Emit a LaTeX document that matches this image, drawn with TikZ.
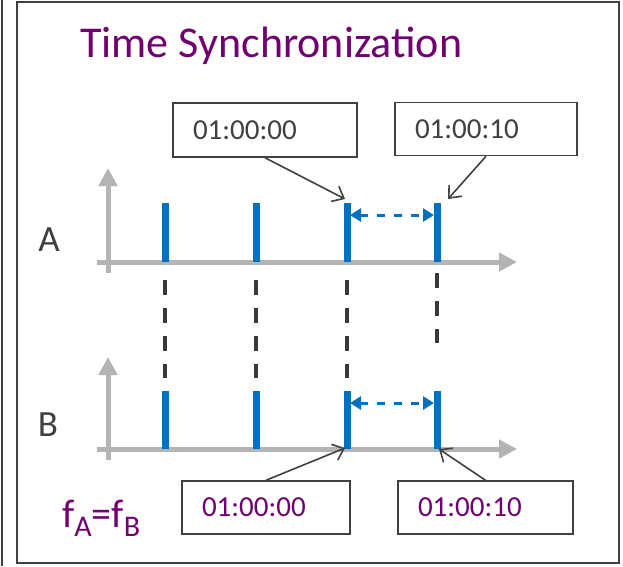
\documentclass[tikz,border=0pt]{standalone}
\usepackage{fontspec}
\setmainfont{Carlito}
\usetikzlibrary{arrows.meta,calc}
\definecolor{titlepurple}{RGB}{112,0,112}
\definecolor{tickblue}{RGB}{0,112,192}
\definecolor{axisgray}{RGB}{180,180,180}
\definecolor{inkgray}{RGB}{64,64,64}

\begin{document}
\begin{tikzpicture}[x=1pt, y=-1pt,
    axisline/.style={draw=axisgray, line width=5pt, -{Triangle[length=18pt,width=18pt]}},
    tickbar/.style={draw=tickblue, line width=7pt},
    syncline/.style={draw=inkgray!90!black, line width=4pt, dash pattern=on 15pt off 13pt},
    gapline/.style={draw=tickblue, line width=3pt, dash pattern=on 8pt off 9pt,
                    {Triangle[length=11pt,width=13pt]}-{Triangle[length=11pt,width=13pt]}},
    stampbox/.style={draw=inkgray, line width=1.5pt, align=left, inner xsep=20pt,
                     inner ysep=0pt, font=\fontsize{29}{31}\selectfont},
    pointer/.style={draw=inkgray, line width=1.6pt, -{Straight Barb[length=10pt,width=17pt]}},
    rowlabel/.style={text=inkgray, font=\fontsize{37}{39}\selectfont}]
  \useasboundingbox (0,0) rectangle (623,566);

  % frame
  \draw[inkgray, line width=2pt] (17,2) rectangle (619,563);
  \draw[inkgray, line width=2.5pt] (2,0) -- (2,566);

  % title
  \node[anchor=base west, text=titlepurple, font=\fontsize{44}{48}\selectfont, inner sep=0pt]
    (title) at (80,57) {Time Synchronization};

  % axes of A and B
  \draw[axisline] (97,262) -- (517,262);
  \draw[axisline] (108,273) -- (108,168);
  \draw[axisline] (97,449) -- (517,449);
  \draw[axisline] (108,460) -- (108,357);

  \node[rowlabel] (labelA) at (49,240) {A};
  \node[rowlabel] (labelB) at (48,425) {B};

  % ticks
  \foreach \x [count=\i] in {165,256,347,437} {
    \draw[tickbar] (\x,262) -- (\x,203) coordinate (ta\i);
    \draw[tickbar] (\x,449) -- (\x,391) coordinate (tb\i);
  }

  % dashed sync lines
  \foreach \i in {1,2,3} {
    \draw[syncline] ($(ta\i)+(0,77)$) -- ($(tb\i)+(0,-13)$);
  }
  \draw[syncline] ($(ta4)+(0,70)$) -- ($(ta4)+(0,140)$);

  % interval between 3rd and 4th tick
  \coordinate (ga1) at (350,215);
  \coordinate (ga2) at (434,215);
  \coordinate (gb1) at (350,403);
  \coordinate (gb2) at (434,403);
  \draw[gapline] (ga1) -- (ga2);
  \draw[gapline] (gb1) -- (gb2);

  % time stamps
  \node[stampbox, text=inkgray, text width=144pt, minimum height=54pt] (stampA1) at (265,130) {01:00:00};
  \node[stampbox, text=inkgray, text width=142pt, minimum height=53pt] (stampA2) at (486,129) {01:00:10};
  \node[stampbox, text=titlepurple, text width=128pt, minimum height=53pt] (stampB1) at (266,507.5) {01:00:00};
  \node[stampbox, text=titlepurple, text width=135pt, minimum height=53pt] (stampB2) at (485.5,507.5) {01:00:10};

  \coordinate (pa1) at (345,199);
  \coordinate (pa2) at (448,199);
  \coordinate (pb1) at (345,448);
  \coordinate (pb2) at (439,449);
  \draw[pointer] (stampA1.south) -- (pa1);
  \draw[pointer] (stampA2.south) -- (pa2);
  \draw[pointer] (stampB1.north) -- (pb1);
  \draw[pointer] (stampB2.north) -- (pb2);

  % frequencies
  \node[anchor=base west, text=titlepurple, font=\fontsize{40}{42}\selectfont, inner sep=0pt]
    (freq) at (62,527) {f\raisebox{-9pt}{\fontsize{30}{32}\selectfont A}=f\raisebox{-9pt}{\fontsize{30}{32}\selectfont B}};
\end{tikzpicture}
\end{document}
